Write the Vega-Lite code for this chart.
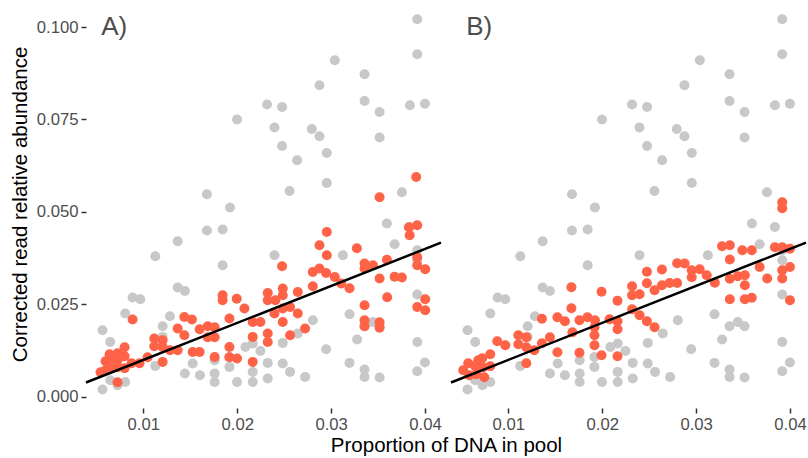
{
  "$schema": "https://vega.github.io/schema/vega-lite/v6.json",
  "padding": {"left": 10, "top": 0, "right": 0, "bottom": 0},
  "autosize": {"type": "pad"},
  "spacing": 10,
  "bounds": "flush",
  "config": {
    "view": {"stroke": null},
    "font": "Liberation Sans",
    "axis": {"grid": false, "domain": false, "tickColor": "#333333", "tickWidth": 1.5, "tickSize": 5, "labelColor": "#4D4D4D", "labelFontSize": 16.7, "labelPadding": 3, "titleColor": "#000000", "titleFontSize": 20.5, "titleFontWeight": "normal", "labelFont": "Liberation Sans", "titleFont": "Liberation Sans"}
  },
  "datasets": {
    "grey": [
      {"x":0.03917,"y":0.10208},{"x":0.03917,"y":0.09262},{"x":0.03039,"y":0.0910},{"x":0.03356,"y":0.08722},{"x":0.02876,"y":0.08424},
      {"x":0.03356,"y":0.08},{"x":0.03839,"y":0.07884},{"x":0.03999,"y":0.07924},{"x":0.02318,"y":0.07903},{"x":0.02478,"y":0.07838},
      {"x":0.03516,"y":0.07703},{"x":0.01998,"y":0.07497},{"x":0.02397,"y":0.07281},{"x":0.02794,"y":0.07243},{"x":0.02876,"y":0.07046},
      {"x":0.03516,"y":0.07011},{"x":0.02478,"y":0.06784},{"x":0.02954,"y":0.06595},{"x":0.02638,"y":0.06397},{"x":0.02954,"y":0.05784},
      {"x":0.02557,"y":0.05568},{"x":0.01678,"y":0.05478},{"x":0.03754,"y":0.05532},{"x":0.01923,"y":0.05119},{"x":0.03594,"y":0.04686},
      {"x":0.03839,"y":0.04595},{"x":0.01678,"y":0.04497},{"x":0.01845,"y":0.04524},
      {"x":0.01366,"y":0.04208},{"x":0.01128,"y":0.03803},{"x":0.01366,"y":0.02957},{"x":0.01443,"y":0.02865},{"x":0.00886,"y":0.02686},
      {"x":0.00968,"y":0.02641},{"x":0.00808,"y":0.02254},{"x":0.01284,"y":0.02181},{"x":0.01206,"y":0.01911},{"x":0.00566,"y":0.01803},
      {"x":0.00648,"y":0.01486},{"x":0.01206,"y":0.01622},{"x":0.01128,"y":0.00838},{"x":0.01526,"y":0.00903},{"x":0.01443,"y":0.00632},
      {"x":0.01603,"y":0.00586},{"x":0.00566,"y":0.0020},{"x":0.00648,"y":0.00451},{"x":0.00726,"y":0.00316},{"x":0.00808,"y":0.00405},
      {"x":0.01845,"y":0.0356},{"x":0.02397,"y":0.0383},{"x":0.02805,"y":0.02073},{"x":0.02947,"y":0.01289},{"x":0.02645,"y":0.01714},
      {"x":0.02485,"y":0.0146},{"x":0.02087,"y":0.01351},{"x":0.02165,"y":0.01443},{"x":0.02247,"y":0.01243},{"x":0.01917,"y":0.00811},
      {"x":0.01917,"y":0.01081},{"x":0.0176,"y":0.00992},{"x":0.0176,"y":0.00632},{"x":0.0176,"y":0.00405},{"x":0.01998,"y":0.00405},
      {"x":0.02165,"y":0.00676},{"x":0.02165,"y":0.00405},{"x":0.02325,"y":0.00919},{"x":0.02325,"y":0.00497},{"x":0.02485,"y":0.00903},
      {"x":0.02563,"y":0.00676},{"x":0.02723,"y":0.0054},
      {"x":0.03676,"y":0.04127},{"x":0.03125,"y":0.0383},{"x":0.03917,"y":0.03965},{"x":0.03917,"y":0.03695},{"x":0.03917,"y":0.02768},
      {"x":0.03196,"y":0.02235},{"x":0.03444,"y":0.02027},{"x":0.03356,"y":0.01911},{"x":0.03516,"y":0.01911},{"x":0.03277,"y":0.01551},
      {"x":0.03917,"y":0.01486},{"x":0.03196,"y":0.00919},{"x":0.03356,"y":0.0074},{"x":0.03356,"y":0.0054},{"x":0.03516,"y":0.00524},
      {"x":0.03917,"y":0.00695},{"x":0.03999,"y":0.0093}
    ],
    "redA": [
      {"x":0.00545,"y":0.00668},{"x":0.00598,"y":0.00722},{"x":0.00651,"y":0.00803},{"x":0.00726,"y":0.00803},{"x":0.00801,"y":0.00776},
      {"x":0.00641,"y":0.01154},{"x":0.00726,"y":0.01181},{"x":0.00801,"y":0.01343},{"x":0.00801,"y":0.011},{"x":0.00726,"y":0.00992},
      {"x":0.00875,"y":0.00911},{"x":0.0096,"y":0.00911},{"x":0.01046,"y":0.01073},{"x":0.00726,"y":0.00397},{"x":0.00683,"y":0.01046},
      {"x":0.00598,"y":0.00965},
      {"x":0.00886,"y":0.02092},{"x":0.01117,"y":0.01578},{"x":0.01206,"y":0.01532},{"x":0.01117,"y":0.0137},{"x":0.01206,"y":0.01351},
      {"x":0.01284,"y":0.01262},{"x":0.01366,"y":0.01262},{"x":0.01206,"y":0.00946},{"x":0.01366,"y":0.01849},{"x":0.01437,"y":0.02162},
      {"x":0.01518,"y":0.02092},{"x":0.01437,"y":0.01668},{"x":0.016,"y":0.0183},{"x":0.01686,"y":0.01911},{"x":0.0176,"y":0.01884},
      {"x":0.01686,"y":0.01614},{"x":0.0176,"y":0.01614},{"x":0.01526,"y":0.01216},{"x":0.016,"y":0.01216},{"x":0.0176,"y":0.01081},
      {"x":0.01845,"y":0.02749},{"x":0.01845,"y":0.02614},{"x":0.01995,"y":0.02654},{"x":0.02077,"y":0.02389},{"x":0.01917,"y":0.02119},
      {"x":0.02165,"y":0.02027},{"x":0.02247,"y":0.02027},{"x":0.02165,"y":0.01622},{"x":0.02325,"y":0.01714},{"x":0.02325,"y":0.01486},
      {"x":0.01917,"y":0.01351},{"x":0.01917,"y":0.01073},{"x":0.01998,"y":0.01038},{"x":0.02165,"y":0.00946},{"x":0.02325,"y":0.02811},
      {"x":0.02325,"y":0.02614},{"x":0.02407,"y":0.02614},{"x":0.02485,"y":0.0293},{"x":0.02485,"y":0.02749},{"x":0.02397,"y":0.02254},
      {"x":0.02485,"y":0.02389},{"x":0.02485,"y":0.02027},{"x":0.02645,"y":0.02838},{"x":0.02563,"y":0.02432},{"x":0.02645,"y":0.02254},
      {"x":0.02723,"y":0.01849},{"x":0.02563,"y":0.01668},{"x":0.02805,"y":0.02992},{"x":0.02805,"y":0.03378},{"x":0.02876,"y":0.0347},
      {"x":0.02947,"y":0.03351},{"x":0.03039,"y":0.03243},{"x":0.02876,"y":0.041},{"x":0.02954,"y":0.04459},{"x":0.02954,"y":0.0383},
      {"x":0.02478,"y":0.03532},{"x":0.03107,"y":0.03065},{"x":0.03196,"y":0.02938},{"x":0.03274,"y":0.04019},{"x":0.03356,"y":0.03605},
      {"x":0.03356,"y":0.0347},{"x":0.03445,"y":0.0356},{"x":0.03594,"y":0.03708},{"x":0.03516,"y":0.032},{"x":0.03676,"y":0.03249},
      {"x":0.03754,"y":0.03227},{"x":0.03597,"y":0.02695},{"x":0.03356,"y":0.02478},{"x":0.03356,"y":0.02073},{"x":0.03356,"y":0.01911},
      {"x":0.03516,"y":0.02019},{"x":0.03516,"y":0.0187},{"x":0.03516,"y":0.05397},{"x":0.03906,"y":0.05946},{"x":0.03828,"y":0.04586},
      {"x":0.03917,"y":0.04641},{"x":0.03836,"y":0.0437},{"x":0.03917,"y":0.03776},{"x":0.03917,"y":0.0356},{"x":0.04002,"y":0.03451},
      {"x":0.04002,"y":0.02641},{"x":0.03917,"y":0.02432},{"x":0.04002,"y":0.02343}
    ],
    "redB": [
      {"x":0.0052,"y":0.00722},{"x":0.00573,"y":0.00911},{"x":0.00584,"y":0.00586},{"x":0.00648,"y":0.0083},{"x":0.00659,"y":0.00614},
      {"x":0.00722,"y":0.01046},{"x":0.00733,"y":0.00803},{"x":0.00744,"y":0.00532},{"x":0.00808,"y":0.01154},{"x":0.00808,"y":0.0083},
      {"x":0.0068,"y":0.00992},
      {"x":0.00883,"y":0.01505},{"x":0.00968,"y":0.01397},{"x":0.01107,"y":0.01668},{"x":0.01192,"y":0.01614},{"x":0.01107,"y":0.01424},
      {"x":0.01192,"y":0.01343},{"x":0.01277,"y":0.01262},{"x":0.01192,"y":0.00911},{"x":0.01358,"y":0.02114},{"x":0.01358,"y":0.01451},
      {"x":0.01443,"y":0.01614},{"x":0.01523,"y":0.02154},{"x":0.01603,"y":0.02046},{"x":0.01523,"y":0.01208},{"x":0.01672,"y":0.02965},
      {"x":0.01672,"y":0.02397},{"x":0.01758,"y":0.02073},{"x":0.01843,"y":0.02154},{"x":0.01923,"y":0.02073},{"x":0.01683,"y":0.01749},
      {"x":0.01918,"y":0.01884},{"x":0.01918,"y":0.01668},{"x":0.01918,"y":0.01397},{"x":0.01758,"y":0.01195},{"x":0.01993,"y":0.02843},
      {"x":0.01993,"y":0.01127},{"x":0.02078,"y":0.021},{"x":0.02163,"y":0.02046},{"x":0.02163,"y":0.026},{"x":0.02163,"y":0.0183},
      {"x":0.02163,"y":0.011},{"x":0.02318,"y":0.02992},{"x":0.02318,"y":0.02749},{"x":0.02398,"y":0.02776},{"x":0.02318,"y":0.0237},
      {"x":0.02398,"y":0.02208},{"x":0.02476,"y":0.03384},{"x":0.02476,"y":0.03073},{"x":0.02476,"y":0.02046},{"x":0.02558,"y":0.01884},
      {"x":0.02558,"y":0.02884},{"x":0.02636,"y":0.03443},{"x":0.02636,"y":0.03019},{"x":0.02718,"y":0.03081},{"x":0.02798,"y":0.03081},
      {"x":0.02798,"y":0.03614},{"x":0.02878,"y":0.03605},{"x":0.02953,"y":0.03424},{"x":0.02953,"y":0.03235},{"x":0.03038,"y":0.03451},
      {"x":0.03113,"y":0.03289},{"x":0.03199,"y":0.03086},{"x":0.03276,"y":0.04073},{"x":0.03359,"y":0.041},{"x":0.03359,"y":0.03714},
      {"x":0.03359,"y":0.03195},{"x":0.03444,"y":0.03262},{"x":0.03519,"y":0.03289},{"x":0.03519,"y":0.03019},{"x":0.03359,"y":0.02641},
      {"x":0.03519,"y":0.02641},{"x":0.03593,"y":0.02681},{"x":0.03492,"y":0.03965},{"x":0.03593,"y":0.03965},{"x":0.03676,"y":0.03514},
      {"x":0.03757,"y":0.032},{"x":0.03839,"y":0.04046},{"x":0.03917,"y":0.04046},{"x":0.03999,"y":0.04005},{"x":0.03917,"y":0.03424},
      {"x":0.03999,"y":0.03514},{"x":0.03917,"y":0.032},{"x":0.03999,"y":0.02614},{"x":0.03917,"y":0.05262},{"x":0.03917,"y":0.051}
    ],
    "line": [{"x":0.0039,"y":0.0039},{"x":0.0417,"y":0.0417}]
  },
  "hconcat": [
    {
      "width": 355,
      "height": 408,
      "encoding": {
        "x": {"field": "x", "type": "quantitative", "scale": {"domain": [0.0039, 0.0417], "nice": false, "zero": false},
              "axis": {"values": [0.01, 0.02, 0.03, 0.04], "format": ".2f", "title": "Proportion of DNA in pool", "titleX": 360, "titleY": 43, "titleAlign": "center", "titleBaseline": "alphabetic"}},
        "y": {"field": "y", "type": "quantitative", "scale": {"domain": [-0.003, 0.1073], "nice": false, "zero": false},
              "axis": {"values": [0, 0.025, 0.05, 0.075, 0.1], "format": ".3f", "title": "Corrected read relative abundance", "titlePadding": 6}}
      },
      "layer": [
        {"data": {"name": "grey"}, "mark": {"type": "circle", "size": 100, "color": "#C8C8C8", "opacity": 1}},
        {"data": {"name": "redA"}, "mark": {"type": "circle", "size": 100, "color": "#FF6347", "opacity": 1}},
        {"data": {"name": "line"}, "mark": {"type": "line", "color": "#000000", "strokeWidth": 2.5}},
        {"data": {"values": [{"x": 0.0069, "y": 0.1, "label": "A)"}]}, "mark": {"type": "text", "fontSize": 26, "color": "#4D4D4D", "align": "center", "baseline": "middle"}, "encoding": {"text": {"field": "label"}}}
      ]
    },
    {
      "width": 355,
      "height": 408,
      "encoding": {
        "x": {"field": "x", "type": "quantitative", "scale": {"domain": [0.0039, 0.0417], "nice": false, "zero": false},
              "axis": {"values": [0.01, 0.02, 0.03, 0.04], "format": ".2f", "title": null}},
        "y": {"field": "y", "type": "quantitative", "scale": {"domain": [-0.003, 0.1073], "nice": false, "zero": false}, "axis": null}
      },
      "layer": [
        {"data": {"name": "grey"}, "mark": {"type": "circle", "size": 100, "color": "#C8C8C8", "opacity": 1}},
        {"data": {"name": "redB"}, "mark": {"type": "circle", "size": 100, "color": "#FF6347", "opacity": 1}},
        {"data": {"name": "line"}, "mark": {"type": "line", "color": "#000000", "strokeWidth": 2.5}},
        {"data": {"values": [{"x": 0.0069, "y": 0.1, "label": "B)"}]}, "mark": {"type": "text", "fontSize": 26, "color": "#4D4D4D", "align": "center", "baseline": "middle"}, "encoding": {"text": {"field": "label"}}}
      ]
    }
  ]
}
